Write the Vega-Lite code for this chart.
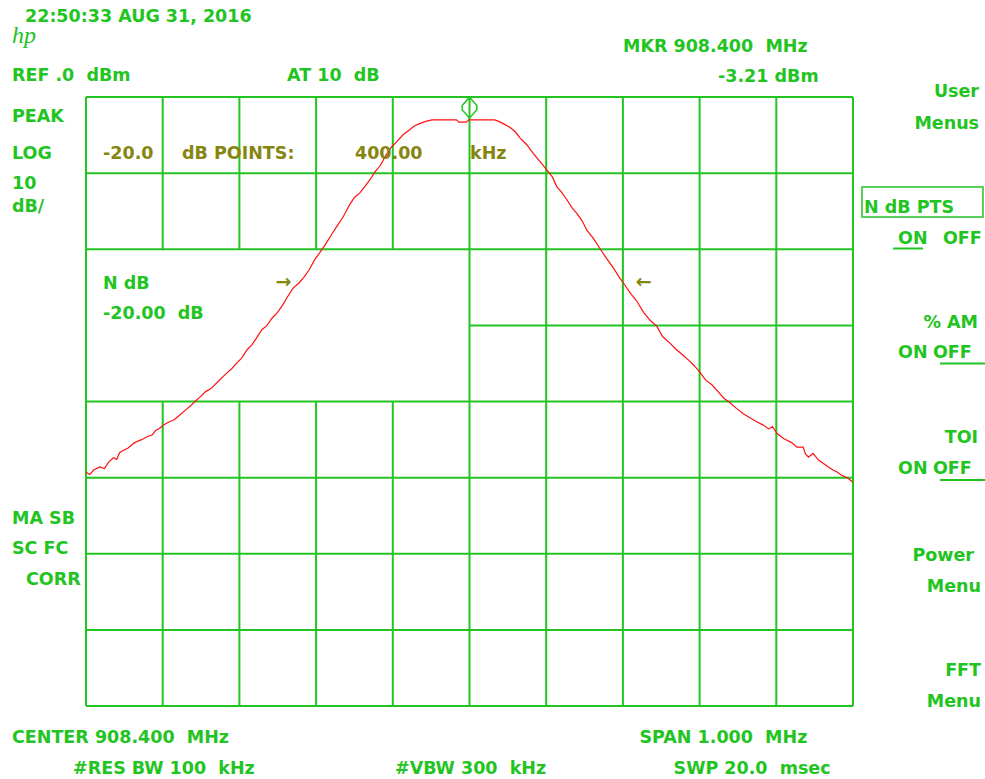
{
  "$schema": "https://vega.github.io/schema/vega-lite/v6.json",
  "width": 767,
  "height": 609,
  "autosize": "none",
  "padding": {"left": 86, "top": 97, "right": 132, "bottom": 73},
  "background": "white",
  "config": {"view": {"stroke": null}, "axis": {"disable": true}},
  "datasets": {
    "grid": [
      {"f": 907.9, "f2": 907.9, "dB": 0, "dB2": -80},
      {"f": 908.0, "f2": 908.0, "dB": 0, "dB2": -20},
      {"f": 908.1, "f2": 908.1, "dB": 0, "dB2": -20},
      {"f": 908.2, "f2": 908.2, "dB": 0, "dB2": -20},
      {"f": 908.3, "f2": 908.3, "dB": 0, "dB2": -20},
      {"f": 908.0, "f2": 908.0, "dB": -40, "dB2": -80},
      {"f": 908.1, "f2": 908.1, "dB": -40, "dB2": -80},
      {"f": 908.2, "f2": 908.2, "dB": -40, "dB2": -80},
      {"f": 908.3, "f2": 908.3, "dB": -40, "dB2": -80},
      {"f": 908.4, "f2": 908.4, "dB": 0, "dB2": -80},
      {"f": 908.5, "f2": 908.5, "dB": 0, "dB2": -80},
      {"f": 908.6, "f2": 908.6, "dB": 0, "dB2": -80},
      {"f": 908.7, "f2": 908.7, "dB": 0, "dB2": -80},
      {"f": 908.8, "f2": 908.8, "dB": 0, "dB2": -80},
      {"f": 908.9, "f2": 908.9, "dB": 0, "dB2": -80},
      {"f": 907.9, "f2": 908.9, "dB": 0, "dB2": 0},
      {"f": 907.9, "f2": 908.9, "dB": -10, "dB2": -10},
      {"f": 907.9, "f2": 908.9, "dB": -20, "dB2": -20},
      {"f": 908.4, "f2": 908.9, "dB": -30, "dB2": -30},
      {"f": 907.9, "f2": 908.9, "dB": -40, "dB2": -40},
      {"f": 907.9, "f2": 908.9, "dB": -50, "dB2": -50},
      {"f": 907.9, "f2": 908.9, "dB": -60, "dB2": -60},
      {"f": 907.9, "f2": 908.9, "dB": -70, "dB2": -70},
      {"f": 907.9, "f2": 908.9, "dB": -80, "dB2": -80}
    ],
    "trace": [
      {"f": 907.900, "dB": -49.3}, {"f": 907.905, "dB": -49.6}, {"f": 907.910, "dB": -49.0},
      {"f": 907.918, "dB": -48.6}, {"f": 907.924, "dB": -48.8}, {"f": 907.930, "dB": -47.9},
      {"f": 907.936, "dB": -47.4}, {"f": 907.940, "dB": -47.6}, {"f": 907.944, "dB": -46.7},
      {"f": 907.949, "dB": -46.4}, {"f": 907.955, "dB": -46.1}, {"f": 907.962, "dB": -45.5},
      {"f": 907.968, "dB": -45.2}, {"f": 907.975, "dB": -44.9}, {"f": 907.980, "dB": -44.6},
      {"f": 907.986, "dB": -44.4}, {"f": 907.991, "dB": -43.8}, {"f": 907.996, "dB": -43.5},
      {"f": 908.001, "dB": -43.1}, {"f": 908.008, "dB": -42.7}, {"f": 908.015, "dB": -42.4},
      {"f": 908.023, "dB": -41.7}, {"f": 908.030, "dB": -41.1}, {"f": 908.036, "dB": -40.6},
      {"f": 908.042, "dB": -40.0}, {"f": 908.050, "dB": -39.3}, {"f": 908.056, "dB": -38.7},
      {"f": 908.063, "dB": -38.3}, {"f": 908.070, "dB": -37.6}, {"f": 908.078, "dB": -36.8},
      {"f": 908.084, "dB": -36.2}, {"f": 908.090, "dB": -35.7}, {"f": 908.096, "dB": -35.0},
      {"f": 908.103, "dB": -34.3}, {"f": 908.110, "dB": -33.2}, {"f": 908.116, "dB": -32.6},
      {"f": 908.122, "dB": -31.7}, {"f": 908.129, "dB": -30.6}, {"f": 908.136, "dB": -30.0},
      {"f": 908.143, "dB": -29.0}, {"f": 908.149, "dB": -28.4}, {"f": 908.156, "dB": -27.4},
      {"f": 908.163, "dB": -26.2}, {"f": 908.170, "dB": -25.1}, {"f": 908.178, "dB": -24.4},
      {"f": 908.184, "dB": -23.7}, {"f": 908.191, "dB": -22.7}, {"f": 908.198, "dB": -21.4},
      {"f": 908.205, "dB": -20.4}, {"f": 908.212, "dB": -19.4}, {"f": 908.220, "dB": -18.1},
      {"f": 908.227, "dB": -17.0}, {"f": 908.235, "dB": -15.8}, {"f": 908.244, "dB": -14.1},
      {"f": 908.250, "dB": -13.2}, {"f": 908.257, "dB": -12.6}, {"f": 908.264, "dB": -11.7},
      {"f": 908.270, "dB": -10.9}, {"f": 908.277, "dB": -9.8}, {"f": 908.283, "dB": -9.1},
      {"f": 908.292, "dB": -7.5}, {"f": 908.298, "dB": -6.6}, {"f": 908.305, "dB": -5.9},
      {"f": 908.313, "dB": -5.0}, {"f": 908.322, "dB": -4.3}, {"f": 908.328, "dB": -3.8},
      {"f": 908.335, "dB": -3.5}, {"f": 908.343, "dB": -3.2}, {"f": 908.351, "dB": -3.0},
      {"f": 908.370, "dB": -3.0}, {"f": 908.383, "dB": -3.0}, {"f": 908.386, "dB": -3.3},
      {"f": 908.396, "dB": -3.3}, {"f": 908.399, "dB": -3.0}, {"f": 908.433, "dB": -3.0},
      {"f": 908.438, "dB": -3.2}, {"f": 908.444, "dB": -3.5}, {"f": 908.453, "dB": -4.0},
      {"f": 908.460, "dB": -4.6}, {"f": 908.466, "dB": -5.4}, {"f": 908.475, "dB": -6.3},
      {"f": 908.483, "dB": -7.4}, {"f": 908.492, "dB": -8.5}, {"f": 908.501, "dB": -9.6},
      {"f": 908.508, "dB": -10.5}, {"f": 908.514, "dB": -11.8}, {"f": 908.520, "dB": -12.5},
      {"f": 908.527, "dB": -13.5}, {"f": 908.534, "dB": -14.6}, {"f": 908.540, "dB": -15.3},
      {"f": 908.547, "dB": -16.3}, {"f": 908.553, "dB": -17.5}, {"f": 908.561, "dB": -18.5},
      {"f": 908.570, "dB": -19.9}, {"f": 908.578, "dB": -21.1}, {"f": 908.588, "dB": -22.5},
      {"f": 908.594, "dB": -23.5}, {"f": 908.601, "dB": -24.5}, {"f": 908.610, "dB": -25.8},
      {"f": 908.618, "dB": -26.8}, {"f": 908.627, "dB": -28.3}, {"f": 908.636, "dB": -29.4},
      {"f": 908.644, "dB": -30.1}, {"f": 908.652, "dB": -31.5}, {"f": 908.661, "dB": -32.3},
      {"f": 908.670, "dB": -33.2}, {"f": 908.678, "dB": -33.9}, {"f": 908.686, "dB": -34.6},
      {"f": 908.693, "dB": -35.3}, {"f": 908.700, "dB": -36.1}, {"f": 908.708, "dB": -37.2},
      {"f": 908.716, "dB": -37.8}, {"f": 908.724, "dB": -38.7}, {"f": 908.732, "dB": -39.6},
      {"f": 908.739, "dB": -40.1}, {"f": 908.748, "dB": -40.9}, {"f": 908.757, "dB": -41.6},
      {"f": 908.765, "dB": -42.1}, {"f": 908.775, "dB": -42.7}, {"f": 908.783, "dB": -43.1},
      {"f": 908.790, "dB": -43.6}, {"f": 908.795, "dB": -43.3}, {"f": 908.801, "dB": -44.2},
      {"f": 908.810, "dB": -44.9}, {"f": 908.820, "dB": -45.4}, {"f": 908.827, "dB": -46.0},
      {"f": 908.835, "dB": -46.0}, {"f": 908.838, "dB": -46.9}, {"f": 908.842, "dB": -47.3},
      {"f": 908.848, "dB": -46.8}, {"f": 908.855, "dB": -47.7}, {"f": 908.861, "dB": -48.1},
      {"f": 908.868, "dB": -48.6}, {"f": 908.874, "dB": -49.0}, {"f": 908.880, "dB": -49.3},
      {"f": 908.885, "dB": -49.7}, {"f": 908.892, "dB": -50.0}, {"f": 908.900, "dB": -50.6}
    ],
    "marker": [{"f": 908.4, "dB": -1.4}],
    "leftText": [
      {"t": "22:50:33 AUG 31, 2016", "f": 907.8205, "dB": 9.85},
      {"t": "REF .0 \u00a0dBm", "f": 907.8035, "dB": 2.10},
      {"t": "AT 10 \u00a0dB", "f": 908.1621, "dB": 2.10},
      {"t": "PEAK", "f": 907.8035, "dB": -3.28},
      {"t": "LOG", "f": 907.8035, "dB": -8.08},
      {"t": "10", "f": 907.8035, "dB": -12.02},
      {"t": "dB/", "f": 907.8035, "dB": -15.11},
      {"t": "N dB", "f": 907.9222, "dB": -25.22},
      {"t": "-20.00 \u00a0dB", "f": 907.9222, "dB": -29.16},
      {"t": "MKR 908.400 \u00a0MHz", "f": 908.6001, "dB": 5.91},
      {"t": "-3.21 dBm", "f": 908.724, "dB": 1.97},
      {"t": "N dB PTS", "f": 908.9144, "dB": -15.24},
      {"t": "ON", "f": 908.9587, "dB": -19.25},
      {"t": "OFF", "f": 909.0173, "dB": -19.25},
      {"t": "ON", "f": 908.9587, "dB": -34.35},
      {"t": "OFF", "f": 909.0043, "dB": -34.35},
      {"t": "ON", "f": 908.9587, "dB": -49.46},
      {"t": "OFF", "f": 909.0043, "dB": -49.46},
      {"t": "MA SB", "f": 907.8035, "dB": -56.03},
      {"t": "SC FC", "f": 907.8035, "dB": -60.03},
      {"t": "CORR", "f": 907.8218, "dB": -64.11},
      {"t": "CENTER 908.400 \u00a0MHz", "f": 907.8035, "dB": -84.86},
      {"t": "#RES BW 100 \u00a0kHz", "f": 907.8831, "dB": -88.87},
      {"t": "#VBW 300 \u00a0kHz", "f": 908.3029, "dB": -88.87},
      {"t": "SPAN 1.000 \u00a0MHz", "f": 908.6216, "dB": -84.86},
      {"t": "SWP 20.0 \u00a0msec", "f": 908.666, "dB": -88.87}
    ],
    "rightText": [
      {"t": "User", "f": 909.0643, "dB": 0.0},
      {"t": "Menus", "f": 909.0643, "dB": -4.14},
      {"t": "% AM", "f": 909.063, "dB": -30.41},
      {"t": "TOI", "f": 909.063, "dB": -45.45},
      {"t": "Power", "f": 909.0577, "dB": -60.95},
      {"t": "Menu", "f": 909.0669, "dB": -65.03},
      {"t": "FFT", "f": 909.0669, "dB": -76.12},
      {"t": "Menu", "f": 909.0669, "dB": -80.13}
    ],
    "oliveText": [
      {"t": "-20.0", "f": 907.9222, "dB": -8.14},
      {"t": "dB POINTS:", "f": 908.0252, "dB": -8.14},
      {"t": "400.00", "f": 908.2507, "dB": -8.14},
      {"t": "kHz", "f": 908.4007, "dB": -8.14}
    ],
    "arrows": [
      {"t": "→", "f": 908.1575, "dB": -24.26},
      {"t": "←", "f": 908.6271, "dB": -24.26}
    ],
    "underlines": [
      {"f": 908.9522, "f2": 908.9913, "dB": -19.9},
      {"f": 909.0134, "f2": 909.0721, "dB": -35.0},
      {"f": 909.0134, "f2": 909.0721, "dB": -50.3}
    ],
    "box": [{"f": 908.9117, "f2": 909.0695, "dB": -11.82, "dB2": -15.76}],
    "logo": [{"t": "hp", "f": 907.8035, "dB": 7.09}]
  },
  "layer": [
    {
      "data": {"name": "grid"},
      "mark": {"type": "rule", "color": "#22c422", "strokeWidth": 2},
      "encoding": {
        "x": {"field": "f", "type": "quantitative", "scale": {"domain": [907.9, 908.9], "nice": false, "zero": false}},
        "x2": {"field": "f2"},
        "y": {"field": "dB", "type": "quantitative", "scale": {"domain": [-80, 0], "nice": false, "zero": false}},
        "y2": {"field": "dB2"}
      }
    },
    {
      "data": {"name": "trace"},
      "mark": {"type": "line", "color": "#ff1010", "strokeWidth": 1.2},
      "encoding": {
        "x": {"field": "f", "type": "quantitative", "scale": {"domain": [907.9, 908.9], "nice": false, "zero": false}},
        "y": {"field": "dB", "type": "quantitative", "scale": {"domain": [-80, 0], "nice": false, "zero": false}}
      }
    },
    {
      "data": {"name": "marker"},
      "mark": {"type": "point", "shape": "M0,-1L0.7,-0.2L0.7,0.2L0,1L-0.7,0.2L-0.7,-0.2Z", "size": 441, "filled": false, "stroke": "#22c422", "strokeWidth": 1.5, "opacity": 1},
      "encoding": {
        "x": {"field": "f", "type": "quantitative", "scale": {"domain": [907.9, 908.9], "nice": false, "zero": false}},
        "y": {"field": "dB", "type": "quantitative", "scale": {"domain": [-80, 0], "nice": false, "zero": false}}
      }
    },
    {
      "data": {"name": "leftText"},
      "mark": {"type": "text", "align": "left", "baseline": "alphabetic", "font": "DejaVu Sans", "fontWeight": "bold", "fontSize": 17.5, "color": "#22c422"},
      "encoding": {
        "x": {"field": "f", "type": "quantitative", "scale": {"domain": [907.9, 908.9], "nice": false, "zero": false}},
        "y": {"field": "dB", "type": "quantitative", "scale": {"domain": [-80, 0], "nice": false, "zero": false}},
        "text": {"field": "t"}
      }
    },
    {
      "data": {"name": "rightText"},
      "mark": {"type": "text", "align": "right", "baseline": "alphabetic", "font": "DejaVu Sans", "fontWeight": "bold", "fontSize": 17.5, "color": "#22c422"},
      "encoding": {
        "x": {"field": "f", "type": "quantitative", "scale": {"domain": [907.9, 908.9], "nice": false, "zero": false}},
        "y": {"field": "dB", "type": "quantitative", "scale": {"domain": [-80, 0], "nice": false, "zero": false}},
        "text": {"field": "t"}
      }
    },
    {
      "data": {"name": "oliveText"},
      "mark": {"type": "text", "align": "left", "baseline": "alphabetic", "font": "DejaVu Sans", "fontWeight": "bold", "fontSize": 17.5, "color": "#858510"},
      "encoding": {
        "x": {"field": "f", "type": "quantitative", "scale": {"domain": [907.9, 908.9], "nice": false, "zero": false}},
        "y": {"field": "dB", "type": "quantitative", "scale": {"domain": [-80, 0], "nice": false, "zero": false}},
        "text": {"field": "t"}
      }
    },
    {
      "data": {"name": "arrows"},
      "mark": {"type": "text", "align": "center", "baseline": "middle", "font": "DejaVu Sans", "fontWeight": "bold", "fontSize": 19, "color": "#858510"},
      "encoding": {
        "x": {"field": "f", "type": "quantitative", "scale": {"domain": [907.9, 908.9], "nice": false, "zero": false}},
        "y": {"field": "dB", "type": "quantitative", "scale": {"domain": [-80, 0], "nice": false, "zero": false}},
        "text": {"field": "t"}
      }
    },
    {
      "data": {"name": "underlines"},
      "mark": {"type": "rule", "color": "#22c422", "strokeWidth": 2},
      "encoding": {
        "x": {"field": "f", "type": "quantitative", "scale": {"domain": [907.9, 908.9], "nice": false, "zero": false}},
        "x2": {"field": "f2"},
        "y": {"field": "dB", "type": "quantitative", "scale": {"domain": [-80, 0], "nice": false, "zero": false}}
      }
    },
    {
      "data": {"name": "box"},
      "mark": {"type": "rect", "fill": null, "fillOpacity": 0, "stroke": "#22c422", "strokeWidth": 1.5},
      "encoding": {
        "x": {"field": "f", "type": "quantitative", "scale": {"domain": [907.9, 908.9], "nice": false, "zero": false}},
        "x2": {"field": "f2"},
        "y": {"field": "dB", "type": "quantitative", "scale": {"domain": [-80, 0], "nice": false, "zero": false}},
        "y2": {"field": "dB2"}
      }
    },
    {
      "data": {"name": "logo"},
      "mark": {"type": "text", "align": "left", "baseline": "alphabetic", "font": "Liberation Serif", "fontStyle": "italic", "fontSize": 24, "color": "#22c422"},
      "encoding": {
        "x": {"field": "f", "type": "quantitative", "scale": {"domain": [907.9, 908.9], "nice": false, "zero": false}},
        "y": {"field": "dB", "type": "quantitative", "scale": {"domain": [-80, 0], "nice": false, "zero": false}},
        "text": {"field": "t"}
      }
    }
  ]
}
